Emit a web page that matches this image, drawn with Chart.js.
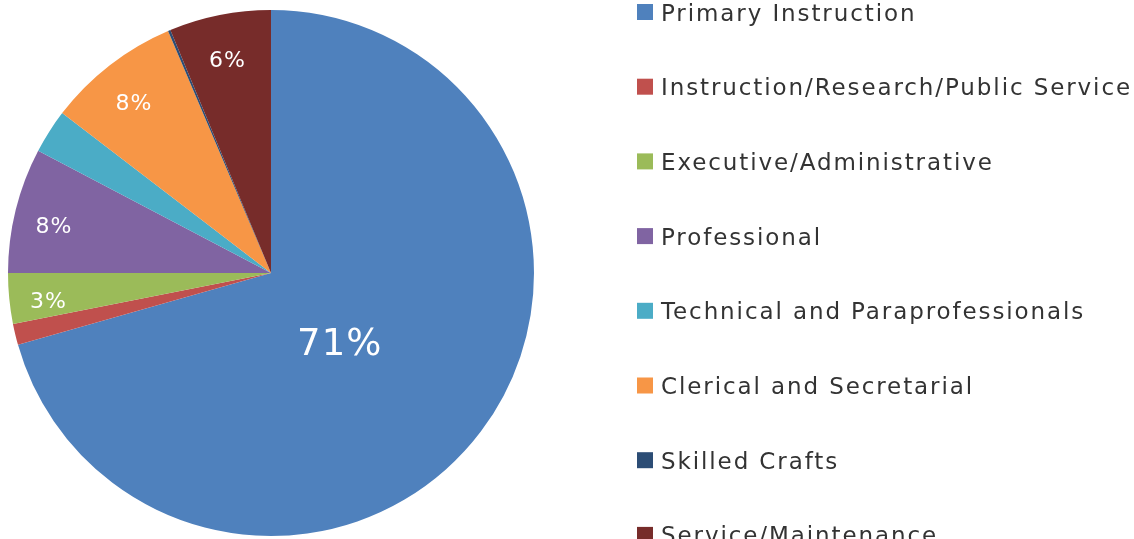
<!DOCTYPE html>
<html>
<head>
<meta charset="utf-8">
<script src="https://cdn.jsdelivr.net/npm/chart.js@4"></script>
<style>
	body { margin: 0; background: #fff; overflow: hidden; }
	canvas { display: block; }
</style>
</head>
<body>
<canvas id="pie" width="1134" height="539"></canvas>
<script>
// categories and their shares (percent of staff)
var categories = [
	"Primary Instruction",
	"Instruction/Research/Public Service",
	"Executive/Administrative",
	"Professional",
	"Technical and Paraprofessionals",
	"Clerical and Secretarial",
	"Skilled Crafts",
	"Service/Maintenance"
];
var shares = [70.6, 1.3, 3.1, 7.7, 2.7, 8.2, 0.15, 6.25];
var showLabel = [true, false, true, true, false, true, false, true];

var colors = ["#4F81BD", "#C0504D", "#9BBB59", "#8064A2", "#4BACC6", "#F79646", "#2C4D75", "#772C2A"];

var pie = {};

// percent labels inside the slices
pie.labelPlugin = {
	id: "pctLabels",
	afterDatasetsDraw: function(chart) {
		var ctx = chart.ctx;
		var meta = chart.getDatasetMeta(0);
		var total = shares.reduce(function(a, b) { return a + b; }, 0);
		ctx.save();
		ctx.fillStyle = "#fff";
		ctx.textAlign = "center";
		ctx.textBaseline = "alphabetic";
		meta.data.forEach(function(arc, i) {
			if (!showLabel[i]) return;
			var p = arc.getProps(["x", "y", "startAngle", "endAngle", "outerRadius"], true);
			var big = shares[i] / total > 0.5;
			var size = big ? 37 : 22;
			var mid = (p.startAngle + p.endAngle) / 2 + (big ? 8 * Math.PI / 180 : 0);
			var r = p.outerRadius * (big ? 0.37 : 0.85);
			ctx.font = size + "px 'DejaVu Sans'";
			ctx.letterSpacing = "1px";
			// small labels sit a little lower, like excel's best fit
			ctx.fillText(Math.round(shares[i] / total * 100) + "%",
				p.x + Math.cos(mid) * r, p.y + Math.sin(mid) * r + size * (big ? 0.36 : 0.62));
		});
		ctx.restore();
	}
};

// legend on the right, one row per category
pie.legendPlugin = {
	id: "sideLegend",
	afterDraw: function(chart) {
		var ctx = chart.ctx;
		ctx.save();
		ctx.font = "23px 'DejaVu Sans'";
		ctx.letterSpacing = "1.9px";
		ctx.textBaseline = "alphabetic";
		categories.forEach(function(name, i) {
			var y = 12 + i * 74.7;
			ctx.fillStyle = colors[i];
			ctx.fillRect(637, y - 8, 16, 16);
			ctx.fillStyle = "#333333";
			ctx.fillText(name, 661, y + 8.5);
		});
		ctx.restore();
	}
};

function Init() {
	pie.Chart = new Chart(document.getElementById("pie"), {
		type: "pie",
		data: {
			labels: categories,
			datasets: [{
				data: shares,
				backgroundColor: colors,
				borderWidth: 0
			}]
		},
		options: {
			responsive: false,
			animation: false,
			layout: { padding: { left: 8, top: 10, right: 600, bottom: 3 } },
			plugins: {
				legend: { display: false },
				tooltip: { enabled: false }
			}
		},
		plugins: [pie.labelPlugin, pie.legendPlugin]
	});
}

Init();
</script>
</body>
</html>
